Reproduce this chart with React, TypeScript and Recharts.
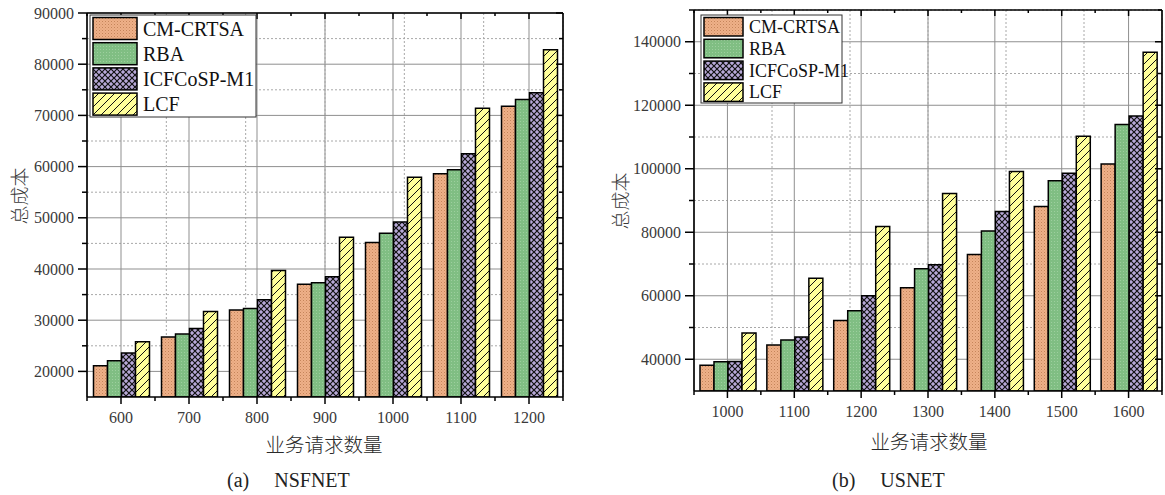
import { BarChart, Bar, XAxis, YAxis, CartesianGrid } from 'recharts';

// 图例名称与填充
const SERIES = [
  { key: 'cm', name: 'CM-CRTSA', fill: 'url(#pCM)' },
  { key: 'rba', name: 'RBA', fill: 'url(#pRBA)' },
  { key: 'icf', name: 'ICFCoSP-M1', fill: 'url(#pICF)' },
  { key: 'lcf', name: 'LCF', fill: 'url(#pLCF)' },
];

// (a) NSFNET
const NSF_REQUESTS = [600, 700, 800, 900, 1000, 1100, 1200];
const NSF_CM = [21100, 26700, 32000, 37000, 45200, 58600, 71800];
const NSF_RBA = [22100, 27300, 32300, 37300, 47000, 59400, 73100];
const NSF_ICF = [23600, 28400, 34000, 38500, 49200, 62500, 74400];
const NSF_LCF = [25800, 31700, 39700, 46200, 57900, 71400, 82800];
const NSF_TICKS = [20000, 25000, 30000, 35000, 40000, 45000, 50000, 55000, 60000, 65000, 70000, 75000, 80000, 85000, 90000];
const NSF_MAJOR = [20000, 30000, 40000, 50000, 60000, 70000, 80000, 90000];
const NSF_MINOR = [25000, 35000, 45000, 55000, 65000, 75000, 85000];

// (b) USNET
const US_REQUESTS = [1000, 1100, 1200, 1300, 1400, 1500, 1600];
const US_CM = [38100, 44500, 52200, 62500, 73000, 88100, 101500];
const US_RBA = [39200, 46100, 55300, 68500, 80400, 96200, 113900];
const US_ICF = [39300, 47000, 60000, 69800, 86500, 98600, 116600];
const US_LCF = [48300, 65500, 81800, 92200, 99100, 110200, 136700];
const US_TICKS = [40000, 50000, 60000, 70000, 80000, 90000, 100000, 110000, 120000, 130000, 140000, 150000];
const US_MAJOR = [40000, 60000, 80000, 100000, 120000, 140000];
const US_MINOR = [50000, 70000, 90000, 110000, 130000, 150000];

const BOUNDS = [1, 2, 3, 4, 5, 6];

const SERIF = '"Liberation Serif", "Times New Roman", serif';
const CJK = '"Noto Sans CJK SC", sans-serif';

const makeRows = (req: number[], cm: number[], rba: number[], icf: number[], lcf: number[]) =>
  req.map((r, i) => ({ req: r, cm: cm[i], rba: rba[i], icf: icf[i], lcf: lcf[i] }));

const yTickLeft = (major: number[]) => (p: any) => {
  const v = p.payload.value;
  const big = major.includes(v);
  return (
    <g>
      <line x1={p.x} y1={p.y} x2={p.x - (big ? 9 : 5)} y2={p.y} stroke="#000" strokeWidth={1.5} />
      {big && (
        <text x={p.x - 13} y={p.y} dy="0.35em" textAnchor="end" fontFamily={SERIF} fontSize={16} fill="#3a3a3a">
          {v}
        </text>
      )}
    </g>
  );
};

const yTickRight = (major: number[]) => (p: any) => {
  const big = major.includes(p.payload.value);
  return <line x1={p.x} y1={p.y} x2={p.x - (big ? 7 : 4)} y2={p.y} stroke="#000" strokeWidth={1.5} />;
};

const xTickBottom = (half: number, last: number) => (p: any) => (
  <g>
    <line x1={p.x} y1={p.y} x2={p.x} y2={p.y + 7} stroke="#000" strokeWidth={1.5} />
    <line x1={p.x - half} y1={p.y} x2={p.x - half} y2={p.y + 4} stroke="#000" strokeWidth={1.5} />
    {p.payload.value === last && (
      <line x1={p.x + half} y1={p.y} x2={p.x + half} y2={p.y + 4} stroke="#000" strokeWidth={1.5} />
    )}
    <text x={p.x} y={p.y + 26} textAnchor="middle" fontFamily={SERIF} fontSize={16} fill="#3a3a3a">
      {p.payload.value}
    </text>
  </g>
);

const xTickTop = (half: number) => (p: any) => (
  <g>
    <line x1={p.x} y1={p.y} x2={p.x} y2={p.y + 6} stroke="#000" strokeWidth={1.5} />
    <line x1={p.x - half} y1={p.y} x2={p.x - half} y2={p.y + 3} stroke="#000" strokeWidth={1.5} />
  </g>
);

type Box = { top: number; right: number; bottom: number; left: number };

type PanelProps = {
  rows: any[];
  left: number;
  width: number;
  height: number;
  margin: Box;
  axes: Box;
  domain: [number, number];
  ticks: number[];
  major: number[];
  minor: number[];
  gap: number;
};

const Panel = ({ rows, left, width, height, margin, axes, domain, ticks, major, minor, gap }: PanelProps) => {
  const plotW = width - margin.left - margin.right - axes.left - axes.right;
  const half = plotW / rows.length / 2;
  const axisLine = { stroke: '#000', strokeWidth: 1.6 };
  return (
    <div style={{ position: 'absolute', left, top: 0 }}>
      <BarChart width={width} height={height} data={rows} margin={margin} barCategoryGap={gap} barGap={0}>
        <CartesianGrid vertical={false} horizontalValues={major} stroke="#8f8f8f" />
        <CartesianGrid vertical={false} horizontalValues={minor} stroke="#a8a8a8" strokeDasharray="2 2" />
        <CartesianGrid horizontal={false} stroke="#8f8f8f" />
        <CartesianGrid xAxisId="minor" horizontal={false} verticalValues={BOUNDS} stroke="#a8a8a8" strokeDasharray="2 2" />
        <XAxis
          dataKey="req"
          height={axes.bottom}
          tickSize={0}
          tickMargin={0}
          tickLine={false}
          interval={0}
          axisLine={axisLine}
          tick={xTickBottom(half, rows[rows.length - 1].req)}
        />
        <XAxis
          xAxisId="top"
          orientation="top"
          dataKey="req"
          height={axes.top}
          tickSize={0}
          tickMargin={0}
          tickLine={false}
          interval={0}
          axisLine={axisLine}
          tick={xTickTop(half)}
        />
        <XAxis xAxisId="minor" type="number" domain={[0, rows.length]} allowDataOverflow hide />
        <YAxis
          type="number"
          domain={domain}
          ticks={ticks}
          width={axes.left}
          tickSize={0}
          tickMargin={0}
          tickLine={false}
          interval={0}
          allowDataOverflow
          axisLine={axisLine}
          tick={yTickLeft(major)}
        />
        <YAxis
          yAxisId="right"
          orientation="right"
          type="number"
          domain={domain}
          ticks={ticks}
          width={axes.right}
          tickSize={0}
          tickMargin={0}
          tickLine={false}
          interval={0}
          allowDataOverflow
          axisLine={axisLine}
          tick={yTickRight(major)}
        />
        {SERIES.map((s) => (
          <Bar key={s.key} dataKey={s.key} name={s.name} fill={s.fill} stroke="#000" strokeWidth={1.5} isAnimationActive={false} />
        ))}
      </BarChart>
    </div>
  );
};

const LegendBox = ({ x, y, w, h, sw, sh, step, font }: any) => (
  <g>
    <rect x={x} y={y} width={w} height={h} fill="#fff" stroke="#333" strokeWidth={1} />
    {SERIES.map((s, i) => (
      <g key={s.key}>
        <rect x={x + 3} y={y + 2.5 + i * step} width={sw} height={sh} fill={s.fill} stroke="#000" strokeWidth={1.5} />
        <text x={x + sw + 9} y={y + 2.5 + i * step + sh / 2} dy="0.35em" fontFamily={SERIF} fontSize={font} fill="#111">
          {s.name}
        </text>
      </g>
    ))}
  </g>
);

export default function App() {
  const nsf = makeRows(NSF_REQUESTS, NSF_CM, NSF_RBA, NSF_ICF, NSF_LCF);
  const us = makeRows(US_REQUESTS, US_CM, US_RBA, US_ICF, US_LCF);
  return (
    <div style={{ position: 'absolute', left: 0, top: 0, width: 1165, height: 495, background: '#fff' }}>
      <Panel
        rows={nsf}
        left={0}
        width={580}
        height={440}
        margin={{ top: 8, right: 7, bottom: 0, left: 27 }}
        axes={{ top: 5, right: 10, bottom: 43, left: 60 }}
        domain={[15000, 90000]}
        ticks={NSF_TICKS}
        major={NSF_MAJOR}
        minor={NSF_MINOR}
        gap={6.5}
      />
      <Panel
        rows={us}
        left={600}
        width={565}
        height={440}
        margin={{ top: 5, right: 0, bottom: 0, left: 30 }}
        axes={{ top: 5, right: 3, bottom: 49, left: 64 }}
        domain={[30000, 150000]}
        ticks={US_TICKS}
        major={US_MAJOR}
        minor={US_MINOR}
        gap={6}
      />
      <svg width={1165} height={495} style={{ position: 'absolute', left: 0, top: 0, pointerEvents: 'none' }}>
        <defs>
          <pattern id="pCM" width="3" height="3" patternUnits="userSpaceOnUse">
            <rect width="3" height="3" fill="#eeb088" />
            <rect x="0" y="0" width="1" height="1" fill="#c4845a" />
            <rect x="1.5" y="1.5" width="1" height="1" fill="#d89a70" />
          </pattern>
          <pattern id="pRBA" width="3" height="3" patternUnits="userSpaceOnUse">
            <rect width="3" height="3" fill="#80be83" />
            <rect x="1" y="1" width="1" height="1" fill="#9dcf9e" />
          </pattern>
          <pattern id="pICF" width="6" height="6" patternUnits="userSpaceOnUse">
            <rect width="6" height="6" fill="#b8a9d8" />
            <path d="M0,0 L6,6 M6,0 L0,6" stroke="#111" strokeWidth="1.2" />
          </pattern>
          <pattern id="pLCF" width="8" height="8" patternUnits="userSpaceOnUse">
            <rect width="8" height="8" fill="#ffff9a" />
            <path d="M-2,2 L2,-2 M0,8 L8,0 M6,10 L10,6" stroke="#111" strokeWidth="1" />
          </pattern>
        </defs>
        <LegendBox x={90} y={15} w={166} h={102} sw={44} sh={22} step={25.2} font={20} />
        <LegendBox x={701} y={15} w={141} h={88} sw={39} sh={18.5} step={21.8} font={18} />
        <text x={18} y={196} transform="rotate(-90 18 196)" textAnchor="middle" dominantBaseline="central" fontFamily={CJK} fontWeight={300} fontSize={19} fill="#3a3a3a">
          总成本
        </text>
        <text x={619} y={201} transform="rotate(-90 619 201)" textAnchor="middle" dominantBaseline="central" fontFamily={CJK} fontWeight={300} fontSize={19} fill="#3a3a3a">
          总成本
        </text>
        <text x={324} y={443} textAnchor="middle" dominantBaseline="central" fontFamily={CJK} fontWeight={300} fontSize={19.5} fill="#2a2a2a">
          业务请求数量
        </text>
        <text x={929} y={440} textAnchor="middle" dominantBaseline="central" fontFamily={CJK} fontWeight={300} fontSize={19.5} fill="#2a2a2a">
          业务请求数量
        </text>
        <text x={227} y={487} fontFamily={SERIF} fontSize={20} fill="#222" style={{ whiteSpace: 'pre' }}>
          {'(a)     NSFNET'}
        </text>
        <text x={832} y={487} fontFamily={SERIF} fontSize={20} fill="#222" style={{ whiteSpace: 'pre' }}>
          {'(b)     USNET'}
        </text>
      </svg>
    </div>
  );
}
